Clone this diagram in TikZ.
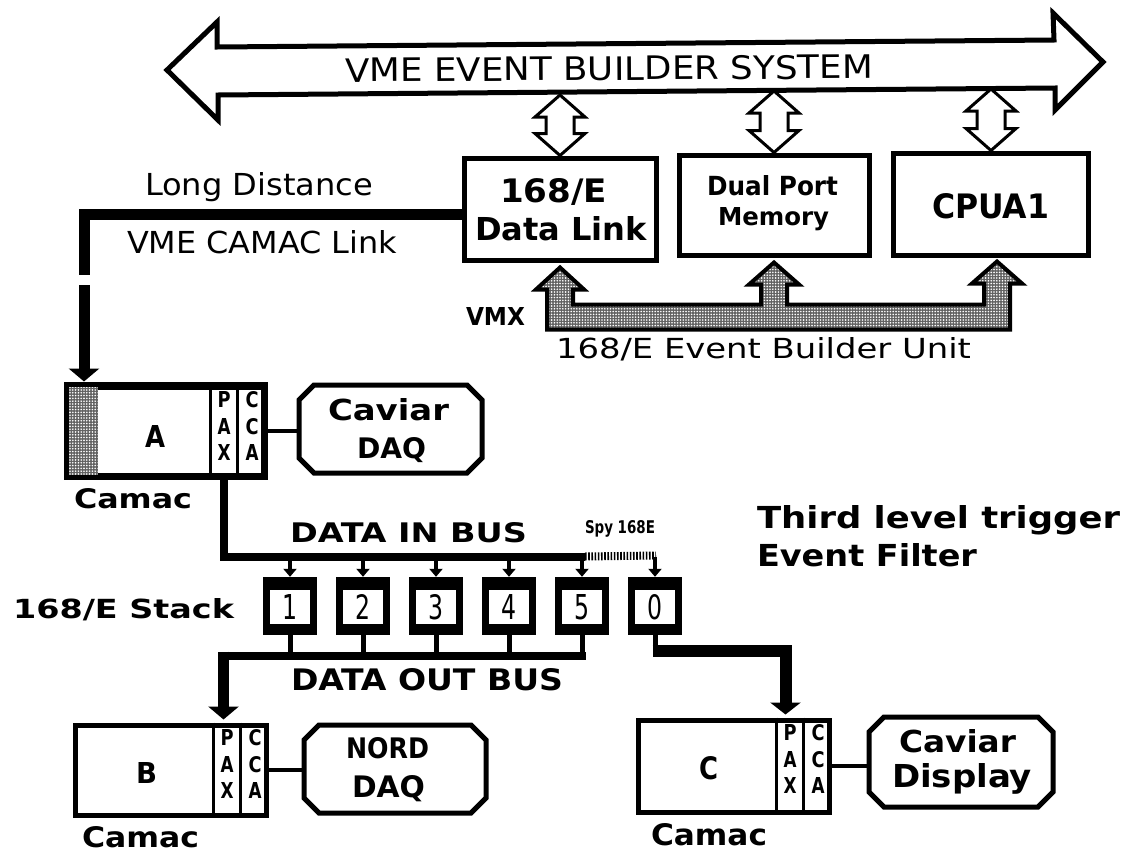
\documentclass[tikz,border=0pt]{standalone}
\usepackage{fontspec}
\setmainfont{DejaVu Sans Condensed}
\usetikzlibrary{arrows.meta,patterns.meta,calc}
\newcommand\rsz[3]{\resizebox{#1pt}{#2pt}{#3}}
\newcommand\rszb[3]{\resizebox{#1pt}{#2pt}{\bfseries #3}}
\newcommand\dblarr[2]{%
  \draw[dblar] (#1) -- ($(#1)+(-25,22)$) -- ($(#1)+(-14,22)$) -- ($(#2)+(-14,-22)$) -- ($(#2)+(-25,-22)$) -- (#2) -- ($(#2)+(25,-22)$) -- ($(#2)+(14,-22)$) -- ($(#1)+(14,22)$) -- ($(#1)+(25,22)$) -- cycle;}
\newcommand\octdraw[1]{%
  \draw[octl] ($(#1.north west)+(15,0)$) -- ($(#1.north east)+(-15,0)$) -- ($(#1.north east)+(0,15)$)
   -- ($(#1.south east)+(0,-15)$) -- ($(#1.south east)+(-15,0)$) -- ($(#1.south west)+(15,0)$)
   -- ($(#1.south west)+(0,-15)$) -- ($(#1.north west)+(0,15)$) -- cycle;}
\newcommand\camcols[1]{%
  \draw[div] ($(#1.north east)+(-55,0)$) -- ($(#1.south east)+(-55,0)$);
  \draw[div] ($(#1.north east)+(-28,0)$) -- ($(#1.south east)+(-28,0)$);
  \node[ctxt] (#1pa) at ($(#1.north east)+(-41.5,15)$) {\rszb{13}{16}{P}};
  \node[ctxt] (#1pb) at ($(#1.north east)+(-41.5,42)$) {\rszb{13}{16}{A}};
  \node[ctxt] (#1pc) at ($(#1.north east)+(-41.5,68)$) {\rszb{13}{16}{X}};
  \node[ctxt] (#1ca) at ($(#1.north east)+(-13.5,15)$) {\rszb{13}{16}{C}};
  \node[ctxt] (#1cb) at ($(#1.north east)+(-13.5,42)$) {\rszb{13}{16}{C}};
  \node[ctxt] (#1cc) at ($(#1.north east)+(-13.5,68)$) {\rszb{13}{16}{A}};}
\begin{document}
\begin{tikzpicture}[x=1pt,y=-1pt,
  txt/.style={inner sep=0pt, outer sep=0pt, anchor=base west},
  ctxt/.style={inner sep=0pt, outer sep=0pt, anchor=center},
  topbox/.style={draw, line width=5pt, fill=white, inner sep=0pt},
  camac/.style={draw, line width=5pt, fill=white, inner sep=0pt},
  octo/.style={inner sep=0pt, outer sep=0pt},
  octl/.style={draw, line width=5pt, fill=white, line join=miter},
  dblar/.style={draw, line width=3pt, fill=white, line join=miter},
  bigbus/.style={draw, line width=5pt, fill=white, line join=miter},
  stip/.style={preaction={fill=black!62}, pattern={Dots[radius=0.9pt,distance=2.8pt]}, pattern color=white},
  vmx/.style={draw, line width=4pt, stip},
  link/.style={line width=11pt},
  bigar/.style={line width=11pt, -{Triangle[width=30pt,length=13pt]}},
  conn/.style={line width=4pt},
  div/.style={line width=2.5pt},
  inbus/.style={line width=8pt},
  outbus/.style={line width=8pt, line cap=rect},
  stub/.style={line width=5pt},
  tap/.style={line width=3.5pt, -{Triangle[width=13pt,length=8pt]}},
  spy/.style={line width=8pt, dash pattern=on 1.6pt off 1.6pt},
  unitout/.style={fill=black, inner sep=0pt, minimum width=54pt, minimum height=58pt},
  unitin/.style={fill=white, draw, line width=1.5pt, inner sep=0pt, minimum width=42pt, minimum height=36pt}
]
\useasboundingbox (0,0) rectangle (1127,852);

% ---- VME bus (big double arrow)
\draw[bigbus] (167,70) -- (217,22) -- (217,47) -- (1054,40) -- (1053,13) -- (1103,62)
  -- (1055,110) -- (1055,88) -- (218,95) -- (218,120) -- cycle;
\node[txt, rotate=0.4] (tvme) at (345,82) {\rsz{528}{24}{VME EVENT BUILDER SYSTEM}};

% ---- top boxes
\node[topbox, minimum width=192pt, minimum height=102pt] (dl) at (560,209) {};
\node[topbox, minimum width=190pt, minimum height=100pt] (dpm) at (774,205) {};
\node[topbox, minimum width=195pt, minimum height=102pt] (cpu) at (991,204) {};
\node[txt] (t168) at (500,202) {\rszb{107}{24}{168/E}};
\node[txt] (tdl) at (475,240) {\rszb{172}{24}{Data Link}};
\node[txt] (tdp) at (707,195) {\rszb{131}{20}{Dual Port}};
\node[txt] (tmem) at (718,225) {\rszb{111}{18}{Memory}};
\node[txt] (tcpu) at (932,218) {\rszb{117}{25}{CPUA1}};

% ---- double arrows bus <-> boxes
\coordinate (t1) at (560,95);
\coordinate (t2) at (774,91);
\coordinate (t3) at (991,89);
\dblarr{t1}{dl.north}
\dblarr{t2}{dpm.north}
\dblarr{t3}{cpu.north}

% ---- VMX bus
\coordinate (v1) at ($(dl.south)+(0,5)$);
\coordinate (v2) at ($(dpm.south)+(0,5)$);
\coordinate (v3) at ($(cpu.south)+(6,4)$);
\draw[vmx] ($(v1)+(-13,62)$) -- ($(v1)+(-13,22)$) -- ($(v1)+(-24,22)$) -- (v1) -- ($(v1)+(24,22)$)
  -- ($(v1)+(13,22)$) -- ($(v1)+(13,37)$) -- ($(v2)+(-13,42)$) -- ($(v2)+(-13,22)$)
  -- ($(v2)+(-25,22)$) -- (v2) -- ($(v2)+(25,22)$) -- ($(v2)+(13,22)$) -- ($(v2)+(13,42)$)
  -- ($(v3)+(-13,43)$) -- ($(v3)+(-13,22)$) -- ($(v3)+(-25,22)$) -- (v3) -- ($(v3)+(25,22)$)
  -- ($(v3)+(13,22)$) -- ($(v3)+(13,68)$) -- cycle;
\node[txt] (tvmx) at (466,325) {\rszb{59}{18}{VMX}};
\node[txt] (tebu) at (556,358) {\rsz{415}{21}{168/E Event Builder Unit}};

% ---- long distance link
\node[txt] (tld) at (145,195) {\rsz{228}{23}{Long Distance}};
\node[txt] (tvcl) at (127,253) {\rsz{270}{23}{VME CAMAC Link}};

% ---- Camac A
\node[camac, minimum width=194pt, minimum height=88pt] (camA) at (166,431) {};
\fill[stip] (camA.north west) rectangle ($(camA.south west)+(31,0)$);
\draw[line width=5pt] (camA.north west) rectangle (camA.south east);
\camcols{camA}
\node[ctxt] (tA) at (155,436) {\rszb{20}{22}{A}};
\node[txt] (tcamA) at (74,508) {\rszb{118}{20}{Camac}};
\node[octo, minimum width=183pt, minimum height=88pt] (cdaq) at (390.5,429) {};
\octdraw{cdaq}
\node[txt] (tcav1) at (328,420) {\rszb{121}{22}{Caviar}};
\node[txt] (tdaq1) at (357,458) {\rszb{69}{21}{DAQ}};
\draw[conn] (camA.east) -- (camA.east -| cdaq.west);

\coordinate (ld1) at ($(dl.west)+(0,5)$);
\coordinate (ld2) at (84,275);
\coordinate (ld3) at (84,285);
\draw[link] (ld1) -| (ld2);
\draw[bigar] (ld3) -- ($(ld3 |- camA.north)+(0,-3)$);

% ---- third level trigger
\node[txt] (ttl) at (757,528) {\rszb{363}{23}{Third level trigger}};
\node[txt] (tef) at (757,566) {\rszb{220}{23}{Event Filter}};

% ---- 168/E stack
\node[unitout] (u1) at (290,606) {};
\node[unitout] (u2) at (363,606) {};
\node[unitout] (u3) at (436,606) {};
\node[unitout] (u4) at (509,606) {};
\node[unitout] (u5) at (582,606) {};
\node[unitout] (u0) at (655,606) {};
\node[unitin] (n1) at ($(u1)+(0,1)$) {\rsz{15}{25}{1}};
\node[unitin] (n2) at ($(u2)+(0,1)$) {\rsz{15}{25}{2}};
\node[unitin] (n3) at ($(u3)+(0,1)$) {\rsz{15}{25}{3}};
\node[unitin] (n4) at ($(u4)+(0,1)$) {\rsz{15}{25}{4}};
\node[unitin] (n5) at ($(u5)+(0,1)$) {\rsz{15}{25}{5}};
\node[unitin] (n0) at ($(u0)+(0,1)$) {\rsz{15}{25}{0}};
\node[txt] (tstack) at (13,618) {\rszb{221}{20}{168/E Stack}};

% ---- data in bus
\coordinate (pa) at ($(camA.south east)+(-42,0)$);
\coordinate (inb) at ($(pa)+(0,79)$);
\coordinate (spyS) at ($(u5.north |- inb)+(3,0)$);
\draw[inbus] (pa) |- (spyS);
\draw[spy] (spyS) -- ($(u0.north |- inb)+(1,-1)$);
\foreach \u in {u1,u2,u3,u4,u5,u0}{\draw[tap] (\u.north |- inb) -- (\u.north);}
\node[txt] (tdin) at (290,542) {\rszb{237}{20}{DATA IN BUS}};
\node[txt] (tspy) at (585,533) {\rszb{70}{13}{Spy 168E}};

% ---- Camac B
\node[camac, minimum width=191pt, minimum height=90pt] (camB) at (170.5,770) {};
\camcols{camB}
\node[ctxt] (tB) at (146.5,772.5) {\rszb{21}{21}{B}};
\node[txt] (tcamB) at (82,847) {\rszb{117}{21}{Camac}};
\node[octo, minimum width=182pt, minimum height=88pt] (nord) at (395,769) {};
\octdraw{nord}
\node[txt] (tnord) at (346,758) {\rszb{83}{21}{NORD}};
\node[txt] (tdaq2) at (352,797) {\rszb{73}{22}{DAQ}};
\draw[conn] (camB.east) -- (camB.east -| nord.west);

% ---- data out bus
\coordinate (ob) at ($(pa)+(0,178)$);
\foreach \u in {u1,u2,u3,u4,u5}{\draw[stub] (\u.south) -- (\u.south |- ob);}
\draw[outbus] (ob) -- (ob -| u5.south);
\draw[bigar] ($(ob)+(0,-4)$) -- ($(ob |- camB.north)+(0,-3)$);
\node[txt] (tdout) at (291,690) {\rszb{272}{22}{DATA OUT BUS}};

% ---- Camac C
\node[camac, minimum width=191pt, minimum height=92pt] (camC) at (733.5,766) {};
\camcols{camC}
\node[ctxt] (tC) at (708.5,768.5) {\rszb{19}{23}{C}};
\node[txt] (tcamC) at (651,845) {\rszb{116}{22}{Camac}};
\node[octo, minimum width=184pt, minimum height=90pt] (cdisp) at (961,762) {};
\octdraw{cdisp}
\node[txt] (tcav2) at (899,752) {\rszb{117}{23}{Caviar}};
\node[txt] (tdisp) at (892,787) {\rszb{140}{24}{Display}};
\draw[conn] (camC.east) -- (camC.east -| cdisp.west);

\coordinate (pc) at ($(camC.north east)+(-46,0)$);
\coordinate (c0) at ($(u0.south)+(0,16)$);
\draw[stub] (u0.south) -- (c0);
\draw[line width=12pt, -{Triangle[width=30pt,length=12pt]}] ($(c0)+(-2.5,0)$) -| ($(pc)+(0,-3)$);
\end{tikzpicture}
\end{document}
